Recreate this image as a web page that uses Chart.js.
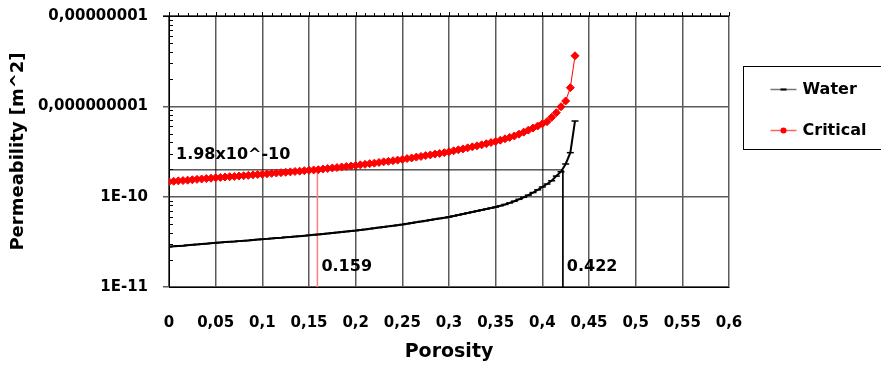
<!DOCTYPE html>
<html>
<head>
<meta charset="utf-8">
<script src="https://cdn.jsdelivr.net/npm/chart.js@4.4.1/dist/chart.umd.min.js"></script>
<style>
  html, body { margin: 0; padding: 0; background: #fff; }
  canvas { display: block; }
</style>
</head>
<body>
<canvas id="myChart" width="881" height="370"></canvas>
<script>
// porosity values (x) for both curves
const porosity = [
  0, 0.005, 0.01, 0.015, 0.02, 0.025, 0.03, 0.035, 0.04, 0.045,
  0.05, 0.055, 0.06, 0.065, 0.07, 0.075, 0.08, 0.085, 0.09, 0.095,
  0.1, 0.105, 0.11, 0.115, 0.12, 0.125, 0.13, 0.135, 0.14, 0.145,
  0.15, 0.155, 0.16, 0.165, 0.17, 0.175, 0.18, 0.185, 0.19, 0.195,
  0.2, 0.205, 0.21, 0.215, 0.22, 0.225, 0.23, 0.235, 0.24, 0.245,
  0.25, 0.255, 0.26, 0.265, 0.27, 0.275, 0.28, 0.285, 0.29, 0.295,
  0.3, 0.305, 0.31, 0.315, 0.32, 0.325, 0.33, 0.335, 0.34, 0.345,
  0.35, 0.355, 0.36, 0.365, 0.37, 0.375, 0.38, 0.385, 0.39, 0.395,
  0.4, 0.405, 0.41, 0.415, 0.42, 0.425, 0.43, 0.435
];

const water = [
  2.79e-11, 2.82e-11, 2.85e-11, 2.87e-11, 2.90e-11, 2.93e-11, 2.96e-11, 2.99e-11, 3.02e-11, 3.05e-11,
  3.08e-11, 3.11e-11, 3.14e-11, 3.17e-11, 3.19e-11, 3.22e-11, 3.25e-11, 3.28e-11, 3.32e-11, 3.35e-11,
  3.38e-11, 3.41e-11, 3.45e-11, 3.48e-11, 3.51e-11, 3.55e-11, 3.58e-11, 3.62e-11, 3.65e-11, 3.69e-11,
  3.73e-11, 3.78e-11, 3.82e-11, 3.87e-11, 3.91e-11, 3.96e-11, 4.01e-11, 4.06e-11, 4.11e-11, 4.16e-11,
  4.21e-11, 4.28e-11, 4.34e-11, 4.41e-11, 4.48e-11, 4.55e-11, 4.62e-11, 4.69e-11, 4.77e-11, 4.84e-11,
  4.92e-11, 5.02e-11, 5.11e-11, 5.21e-11, 5.31e-11, 5.42e-11, 5.52e-11, 5.63e-11, 5.74e-11, 5.85e-11,
  5.96e-11, 6.11e-11, 6.27e-11, 6.43e-11, 6.60e-11, 6.77e-11, 6.94e-11, 7.12e-11, 7.30e-11, 7.49e-11,
  7.68e-11, 7.94e-11, 8.20e-11, 8.53e-11, 8.91e-11, 9.35e-11, 9.84e-11, 1.04e-10, 1.11e-10, 1.19e-10,
  1.28e-10, 1.38e-10, 1.50e-10, 1.69e-10, 1.89e-10, 2.30e-10, 3.07e-10, 6.88e-10
];

const critical = [
  1.465e-10, 1.481e-10, 1.496e-10, 1.507e-10, 1.523e-10, 1.538e-10, 1.554e-10, 1.570e-10, 1.586e-10, 1.601e-10,
  1.617e-10, 1.633e-10, 1.649e-10, 1.664e-10, 1.675e-10, 1.691e-10, 1.706e-10, 1.722e-10, 1.743e-10, 1.759e-10,
  1.775e-10, 1.790e-10, 1.811e-10, 1.827e-10, 1.843e-10, 1.864e-10, 1.880e-10, 1.901e-10, 1.916e-10, 1.937e-10,
  1.958e-10, 1.975e-10, 1.99e-10, 2.02e-10, 2.05e-10, 2.08e-10, 2.10e-10, 2.13e-10, 2.16e-10, 2.18e-10,
  2.21e-10, 2.25e-10, 2.28e-10, 2.32e-10, 2.35e-10, 2.39e-10, 2.43e-10, 2.46e-10, 2.50e-10, 2.54e-10,
  2.58e-10, 2.64e-10, 2.68e-10, 2.74e-10, 2.79e-10, 2.85e-10, 2.90e-10, 2.96e-10, 3.01e-10, 3.07e-10,
  3.14e-10, 3.22e-10, 3.30e-10, 3.38e-10, 3.47e-10, 3.56e-10, 3.65e-10, 3.75e-10, 3.86e-10, 3.97e-10,
  4.08e-10, 4.22e-10, 4.37e-10, 4.53e-10, 4.70e-10, 4.92e-10, 5.18e-10, 5.45e-10, 5.75e-10, 6.05e-10,
  6.40e-10, 6.76e-10, 7.56e-10, 8.50e-10, 9.90e-10, 1.146e-9, 1.61e-9, 3.63e-9
];

// marked reading: permeability 1.98e-10 at porosity 0.159 (critical) and 0.422 (water)
const markK = 1.98e-10;
const markCritical = 0.159;
const markWater = 0.422;
const markLabels = ['1.98x10^-10', '0.159', '0.422'];

const xTicks = [0, 0.05, 0.1, 0.15, 0.2, 0.25, 0.3, 0.35, 0.4, 0.45, 0.5, 0.55, 0.6];
const xTickLabels = ['0', '0,05', '0,1', '0,15', '0,2', '0,25', '0,3', '0,35', '0,4', '0,45', '0,5', '0,55', '0,6'];
const yTicks = [1e-11, 1e-10, 1e-9, 1e-8];
const yTickLabels = ['1E-11', '1E-10', '0,000000001', '0,00000001'];

const FONT = "'DejaVu Sans', sans-serif";
const gridColor = '#5a5a5a';

const extras = {
  id: 'extras',
  afterDraw(chart) {
    const ctx = chart.ctx;
    const xs = chart.scales.x, ys = chart.scales.y;
    const a = chart.chartArea;
    ctx.save();

    // minor ticks on left axis (inside)
    ctx.strokeStyle = '#000';
    ctx.lineWidth = 1;
    ctx.beginPath();
    for (let d = -11; d < -8; d++) {
      for (let k = 2; k <= 9; k++) {
        const py = Math.round(ys.getPixelForValue(k * Math.pow(10, d))) + 0.5;
        ctx.moveTo(a.left, py);
        ctx.lineTo(a.left + 4, py);
      }
    }
    // minor ticks on top edge (outside)
    for (let i = 0; i <= 60; i++) {
      const px = Math.round(xs.getPixelForValue(i / 100)) + 0.5;
      ctx.moveTo(px, a.top);
      ctx.lineTo(px, a.top - (i % 5 === 0 ? 4 : 3));
    }
    ctx.stroke();

    // top border
    ctx.beginPath();
    ctx.moveTo(a.left - 6, Math.round(a.top) + 0.5);
    ctx.lineTo(a.right, Math.round(a.top) + 0.5);
    ctx.stroke();

    // marked reading labels
    ctx.fillStyle = '#000';
    ctx.font = "bold 16px " + FONT;
    ctx.textBaseline = 'middle';
    ctx.textAlign = 'left';
    ctx.fillText(markLabels[0], xs.getPixelForValue(0) + 7, ys.getPixelForValue(markK) - 15);
    ctx.fillText(markLabels[1], xs.getPixelForValue(markCritical) + 4, a.bottom - 20);
    ctx.fillText(markLabels[2], xs.getPixelForValue(markWater) + 4, a.bottom - 20);

    // legend box
    const lx = a.right + 14.5, ly = 66.5;
    ctx.strokeStyle = '#000';
    ctx.lineWidth = 1;
    ctx.strokeRect(lx, ly, 160, 83);
    const items = [chart.data.datasets[0], chart.data.datasets[1]];
    items.forEach((ds, i) => {
      const y = ly + 23 + i * 41;
      ctx.strokeStyle = i === 0 ? '#777' : '#ff6060';
      ctx.lineWidth = 1.5;
      ctx.beginPath();
      ctx.moveTo(lx + 27, y);
      ctx.lineTo(lx + 53, y);
      ctx.stroke();
      if (i === 0) {
        ctx.strokeStyle = '#000';
        ctx.lineWidth = 2;
        ctx.beginPath();
        ctx.moveTo(lx + 37, y);
        ctx.lineTo(lx + 43, y);
        ctx.stroke();
      } else {
        ctx.fillStyle = '#ff0000';
        ctx.beginPath();
        ctx.arc(lx + 40, y, 3, 0, Math.PI * 2);
        ctx.fill();
      }
      ctx.fillStyle = '#000';
      ctx.font = "bold 16px " + FONT;
      ctx.fillText(ds.label, lx + 59, y);
    });
    ctx.restore();
  }
};

const ctx = document.getElementById('myChart').getContext('2d');
const myChart = new Chart(ctx, {
  type: 'scatter',
  data: {
    datasets: [
      {
        label: 'Water',
        data: porosity.map((p, i) => ({ x: p, y: water[i] })),
        showLine: true,
        borderColor: '#000',
        borderWidth: 2,
        pointStyle: 'line',
        pointRadius: 3.5,
        pointBorderWidth: 1.5,
        pointBorderColor: '#000',
        order: 2
      },
      {
        label: 'Critical',
        data: porosity.map((p, i) => ({ x: p, y: critical[i] })),
        showLine: true,
        borderColor: '#ff0000',
        borderWidth: 1,
        backgroundColor: '#ff0000',
        pointStyle: 'rectRot',
        pointRadius: 4,
        pointBorderWidth: 1,
        pointBorderColor: '#ff0000',
        order: 1
      },
      {
        label: 'mark water',
        data: [{ x: 0, y: markK }, { x: markWater, y: markK }, { x: markWater, y: yTicks[0] }],
        showLine: true,
        borderColor: '#000',
        borderWidth: 1,
        pointRadius: 0,
        order: 3
      },
      {
        label: 'mark critical',
        data: [{ x: markCritical, y: markK }, { x: markCritical, y: yTicks[0] }],
        showLine: true,
        borderColor: '#ff7f7f',
        borderWidth: 1.5,
        pointRadius: 0,
        order: 3
      }
    ]
  },
  options: {
    responsive: false,
    animation: false,
    devicePixelRatio: 1,
    layout: { padding: { top: 16, right: 152, left: 0, bottom: 0 } },
    plugins: {
      legend: { display: false },
      tooltip: { enabled: false }
    },
    scales: {
      x: {
        type: 'linear',
        min: 0,
        max: 0.6,
        afterBuildTicks: s => { s.ticks = xTicks.map(v => ({ value: v })); },
        afterFit: s => { s.height = 83; s.paddingLeft = 0; s.paddingRight = 0; },
        ticks: {
          callback: (v, i) => xTickLabels[i],
          font: { family: FONT, size: 15, weight: 'bold' },
          color: '#000',
          padding: 27,
          maxRotation: 0,
          autoSkip: false
        },
        grid: { color: gridColor, lineWidth: 1.5, drawTicks: false },
        border: { color: '#000', width: 1 },
        title: {
          display: true,
          text: 'Porosity',
          font: { family: FONT, size: 19, weight: 'bold' },
          color: '#000',
          padding: { top: 0, bottom: 7 }
        }
      },
      y: {
        type: 'logarithmic',
        min: 1e-11,
        max: 1e-8,
        afterBuildTicks: s => { s.ticks = yTicks.map(v => ({ value: v })); },
        afterFit: s => { s.width = 169; s.paddingTop = 0; s.paddingBottom = 0; },
        ticks: {
          callback: (v, i) => yTickLabels[i],
          font: { family: FONT, size: 15, weight: 'bold' },
          color: '#000',
          padding: 15,
          autoSkip: false
        },
        grid: { color: gridColor, lineWidth: 1.5, tickLength: 6 },
        border: { color: '#000', width: 1 },
        title: {
          display: true,
          text: 'Permeability [m^2]',
          font: { family: FONT, size: 18, weight: 'bold' },
          color: '#000',
          padding: { top: 8, bottom: 0 }
        }
      }
    }
  },
  plugins: [extras]
});
</script>
</body>
</html>
